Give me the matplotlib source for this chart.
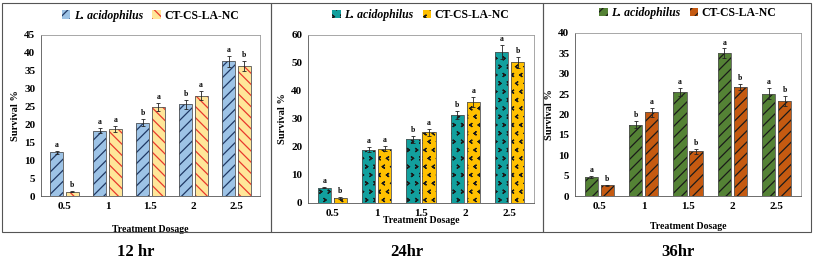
import numpy as np
import matplotlib
matplotlib.use("Agg")
import matplotlib.pyplot as plt
import matplotlib.hatch as mhatch
from matplotlib.path import Path
from matplotlib.patches import Rectangle, Patch

plt.rcParams['font.family'] = ['Liberation Serif', 'DejaVu Serif']
plt.rcParams['font.weight'] = 'bold'
plt.rcParams['hatch.linewidth'] = 0.9

# --- data ---
doses = ["0.5", "1", "1.5", "2", "2.5"]
series_names = ["L. acidophilus", "CT-CS-LA-NC"]
panel_titles = ["12 hr", "24hr", "36hr"]

la_12 = [12.2, 18.3, 20.5, 25.6, 37.6]
la_12_err = [0.5, 0.8, 1.0, 1.2, 1.5]
ct_12 = [1.2, 18.8, 24.9, 28.0, 36.3]
ct_12_err = [0.1, 0.9, 1.2, 1.3, 1.4]
letters_la_12 = ["a", "a", "b", "b", "a"]
letters_ct_12 = ["b", "a", "a", "a", "b"]

la_24 = [5.5, 19.1, 22.8, 31.5, 53.8]
la_24_err = [0.3, 0.9, 1.2, 1.5, 2.5]
ct_24 = [1.8, 19.4, 25.3, 36.2, 50.2]
ct_24_err = [0.4, 1.0, 1.2, 1.8, 2.0]
letters_la_24 = ["a", "a", "b", "b", "a"]
letters_ct_24 = ["b", "a", "a", "a", "b"]

la_36 = [4.6, 17.5, 25.6, 35.0, 25.1]
la_36_err = [0.2, 0.9, 1.0, 1.2, 1.3]
ct_36 = [2.6, 20.5, 11.0, 26.8, 23.3]
ct_36_err = [0.1, 1.0, 0.6, 0.8, 1.2]
letters_la_36 = ["a", "b", "a", "a", "a"]
letters_ct_36 = ["b", "a", "b", "b", "b"]


# chevron hatch patterns ('*' -> '>' marks, 'O' -> '<' marks)
class RightChevrons(mhatch.Shapes):
    size = 0.4
    filled = False

    def __init__(self, hatch, density):
        self.num_rows = hatch.count('*') * density
        self.shape_vertices = np.array([[-0.3, 0.45], [0.3, 0.0], [-0.3, -0.45]])
        self.shape_codes = np.array([Path.MOVETO, Path.LINETO, Path.LINETO], dtype=Path.code_type)
        super().__init__(hatch, density)


class LeftChevrons(mhatch.Shapes):
    size = 0.4
    filled = False

    def __init__(self, hatch, density):
        self.num_rows = hatch.count('O') * density
        self.shape_vertices = np.array([[0.3, 0.45], [-0.3, 0.0], [0.3, -0.45]])
        self.shape_codes = np.array([Path.MOVETO, Path.LINETO, Path.LINETO], dtype=Path.code_type)
        super().__init__(hatch, density)


mhatch._hatch_types = [h for h in mhatch._hatch_types
                       if h not in (mhatch.Stars, mhatch.LargeCircles)] + [RightChevrons, LeftChevrons]

panels = [
    dict(la=la_12, la_err=la_12_err, ct=ct_12, ct_err=ct_12_err,
         lla=letters_la_12, lct=letters_ct_12, ymax=45, step=5,
         colors=("#9DC3E6", "#FFE699"), hatches=("///", "\\\\\\"),
         hcolors=("#1F3864", "#E8382C"),
         rect=[41 / 813, 1 - 196 / 266, 219 / 813, 161 / 266], xlab_y=-0.18),
    dict(la=la_24, la_err=la_24_err, ct=ct_24, ct_err=ct_24_err,
         lla=letters_la_24, lct=letters_ct_24, ymax=60, step=10,
         colors=("#12A09E", "#FFC000"), hatches=("**", "OO"),
         hcolors=("#1a1a1a", "#1a1a1a"),
         rect=[308 / 813, 1 - 203 / 266, 226 / 813, 168 / 266], xlab_y=-0.08),
    dict(la=la_36, la_err=la_36_err, ct=ct_36, ct_err=ct_36_err,
         lla=letters_la_36, lct=letters_ct_36, ymax=40, step=5,
         colors=("#548235", "#C55A11"), hatches=("///", "///"),
         hcolors=("#1a1a1a", "#1a1a1a"),
         rect=[575 / 813, 1 - 196 / 266, 226 / 813, 163 / 266], xlab_y=-0.16),
]

fig = plt.figure(figsize=(8.13, 2.66), dpi=100)

# panel frames
for x0, x1 in [(2, 271), (271, 543), (543, 811)]:
    fig.patches.append(Rectangle((x0 / 813, 1 - 232 / 266), (x1 - x0) / 813, 229 / 266,
                                 transform=fig.transFigure, fill=False,
                                 edgecolor="#555555", linewidth=0.8))

x = np.arange(len(doses))
w = 0.3
off = 0.18

for p, title, tx in zip(panels, panel_titles, [136, 407, 678]):
    ax = fig.add_axes(p["rect"])
    handles = []
    for vals, errs, letters, col, hat, hcol, sign in [
        (p["la"], p["la_err"], p["lla"], p["colors"][0], p["hatches"][0], p["hcolors"][0], -1),
        (p["ct"], p["ct_err"], p["lct"], p["colors"][1], p["hatches"][1], p["hcolors"][1], 1),
    ]:
        xs = x + sign * off
        ax.bar(xs, vals, w, color=col, hatch=hat, edgecolor=hcol, linewidth=0, zorder=2)
        ax.bar(xs, vals, w, fill=False, edgecolor="#555555", linewidth=0.6, zorder=3)
        ax.errorbar(xs, vals, yerr=errs, fmt="none", ecolor="#222222",
                    elinewidth=0.6, capsize=1.5, capthick=0.6, zorder=4)
        for xi, v, e, t in zip(xs, vals, errs, letters):
            ax.text(xi, v + e + p["ymax"] * 0.012, t, ha="center", va="bottom",
                    fontsize=5.5, fontweight="bold")
        handles.append(Patch(facecolor=col, hatch=hat, edgecolor=hcol, linewidth=0))

    ax.set_xlim(-0.55, len(doses) - 0.45)
    ax.set_ylim(0, p["ymax"])
    ax.set_yticks(np.arange(0, p["ymax"] + 0.1, p["step"]))
    ax.set_xticks(x)
    ax.set_xticklabels(doses)
    ax.tick_params(axis="both", labelsize=8, length=0, pad=4)
    for lab in ax.get_xticklabels() + ax.get_yticklabels():
        lab.set_fontweight("bold")
    for s in ax.spines.values():
        s.set_color("#999999")
        s.set_linewidth(0.6)
    ax.spines["left"].set_color("#555555")
    ax.spines["bottom"].set_color("#555555")
    ax.set_ylabel("Survival %", fontsize=7.5, fontweight="bold", labelpad=3)
    ax.set_xlabel("Treatment Dosage", fontsize=7, fontweight="bold")
    ax.xaxis.set_label_coords(0.5, p["xlab_y"])

    leg = ax.legend(handles, series_names, loc="center", bbox_to_anchor=(0.5, 1.12),
                    ncol=2, frameon=False, handlelength=0.7, handleheight=0.7,
                    handletextpad=0.3, columnspacing=0.8, prop={"weight": "bold", "size": 8.5})
    leg.get_texts()[0].set_fontstyle("italic")

    fig.text(tx / 813, 1 - 252 / 266, title, ha="center", va="center",
             fontsize=12, fontweight="bold")

fig.savefig("out.png", dpi=100)
